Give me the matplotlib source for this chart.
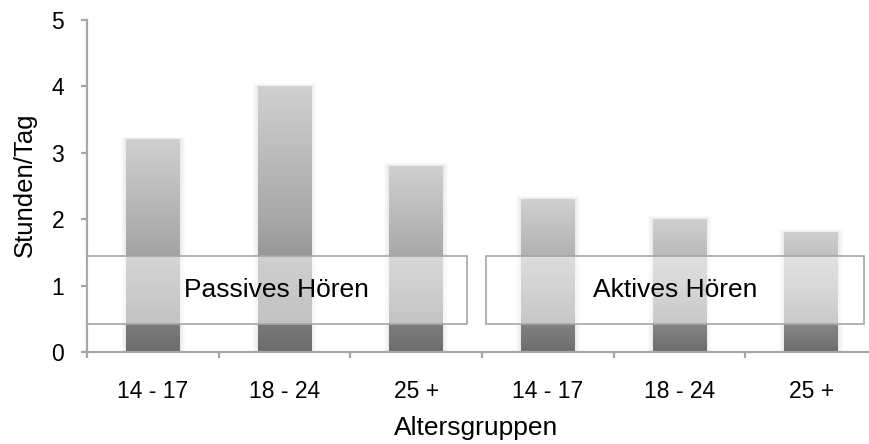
import matplotlib

matplotlib.use("Agg")
import matplotlib.pyplot as plt
import numpy as np
from matplotlib.colors import LinearSegmentedColormap
from matplotlib.patches import Rectangle

# Listening time per age group (hours per day)
groups = ["14 - 17", "18 - 24", "25 +", "14 - 17", "18 - 24", "25 +"]
hours = [3.2, 4.0, 2.8, 2.3, 2.0, 1.8]
panels = ["Passives Hören", "Aktives Hören"]

plt.rcParams["font.family"] = ["Liberation Sans", "DejaVu Sans"]

GRAY = "#a6a6a6"
bar_cmap = LinearSegmentedColormap.from_list("bar", ["#6c6c6c", "#a8a8a8", "#d0d0d0"])
gradient = np.linspace(0, 1, 256).reshape(-1, 1)

fig = plt.figure(figsize=(8.7, 4.44), dpi=100)
ax = fig.add_axes([87 / 870, 1 - 352 / 444, 790 / 870, 332 / 444])
ax.set_xlim(0, 6)
ax.set_ylim(0, 5)

width = 0.41
px_x = 6 / 790
px_y = 5 / 332
for i, h in enumerate(hours):
    x0 = i + 0.5 - width / 2
    # soft shadow around the bar
    for k in range(1, 6):
        ax.add_patch(Rectangle((x0 - k * px_x, 0), width + 2 * k * px_x, h + k * px_y * 0.6,
                               facecolor="black", edgecolor="none", alpha=0.015, zorder=1))
    ax.imshow(gradient, cmap=bar_cmap, origin="lower", aspect="auto",
              extent=[x0, x0 + width, 0, h], zorder=2)

# framed group labels laid over the bars
boxes = [(0.0, 2.885), (3.03, 5.9)]
for (bx0, bx1), label in zip(boxes, panels):
    ax.add_patch(Rectangle((bx0, 0.42), bx1 - bx0, 1.025, facecolor="white",
                           edgecolor="none", alpha=0.55, zorder=3))
    ax.add_patch(Rectangle((bx0, 0.42), bx1 - bx0, 1.025, facecolor="none",
                           edgecolor=GRAY, linewidth=1.2, zorder=4))
    ax.text((bx0 + bx1) / 2, 0.93, label, ha="center", va="center",
            fontsize=19, color="black", zorder=5)

ax.set_yticks(range(6))
ax.set_xticks(range(7))
ax.set_xticklabels([])
ax.set_xticks(np.arange(6) + 0.5, minor=True)
ax.set_xticklabels(groups, minor=True)

for side in ["top", "right"]:
    ax.spines[side].set_visible(False)
for side in ["left", "bottom"]:
    ax.spines[side].set_color(GRAY)
    ax.spines[side].set_linewidth(1.6)

ax.tick_params(axis="y", direction="out", length=4.5, width=1.6, color=GRAY,
               labelsize=16.5, pad=12)
ax.tick_params(axis="x", which="major", direction="out", length=4.5, width=1.6, color=GRAY)
ax.tick_params(axis="x", which="minor", length=0, labelsize=16.5, pad=20)

fig.text(476 / 870, 1 - 428 / 444, "Altersgruppen", ha="center", va="center", fontsize=19)
fig.text(25 / 870, 1 - 185 / 444, "Stunden/Tag", ha="center", va="center",
         rotation=90, fontsize=18.5)

fig.savefig("out.png", dpi=100)
